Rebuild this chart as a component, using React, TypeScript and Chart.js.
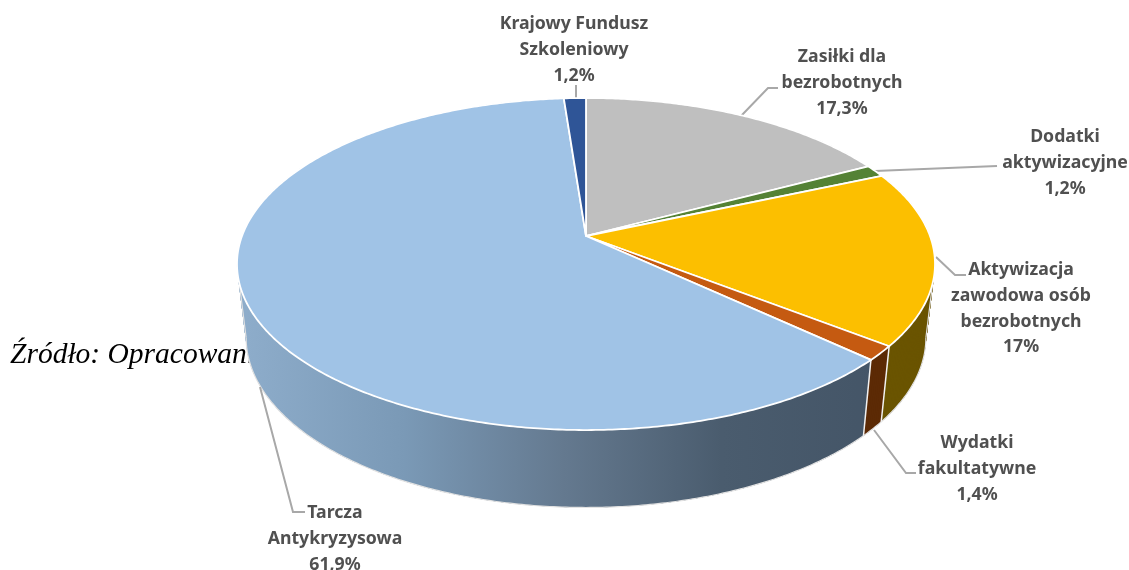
import React, { useEffect, useRef } from "react";
import { Chart, registerables } from "chart.js";

Chart.register(...registerables);

const categories = [
  ["Zasiłki dla", "bezrobotnych"],
  ["Dodatki", "aktywizacyjne"],
  ["Aktywizacja", "zawodowa osób", "bezrobotnych"],
  ["Wydatki", "fakultatywne"],
  ["Tarcza", "Antykryzysowa"],
  ["Krajowy Fundusz", "Szkoleniowy"],
];
const shares = [17.3, 1.2, 17, 1.4, 61.9, 1.2];
const faceColors = ["#bfbfbf", "#548235", "#fcbf00", "#c55a11", "#a0c3e6", "#2f5597"];
const wallColors = ["#5f5f5f", "#2a411a", "#6a5400", "#5c2a05", "#445567", "#172a4b"];
const sourceNote = "Źródło: Opracowani";

// label centre x, first line centre y
const labelAnchors = [
  [842, 57],
  [1065, 137],
  [1021, 270],
  [977, 443],
  [335, 513],
  [574, 24],
];
const leaderPaths = [
  [[741, 116], [768, 88], [778, 88]],
  [[875, 171], [997, 166]],
  [[936, 257], [955, 275], [966, 275]],
  [[874, 430], [906, 473], [916, 473]],
  [[260, 387], [293, 512], [305, 512]],
  [[576, 85], [576, 99]],
];

const TOP = { cx: 586, cy: 236, R: 344, B: 161.3, k: 0.1687 };
const BOTTOM = { cx: 586, cy: 309, R: 335, B: 165, k: 0.1687 };

type Plane = typeof TOP;
const project = (p: Plane, t: number): [number, number] => {
  const u = Math.sin(t);
  const v = -Math.cos(t);
  const w = 1 - p.k * v;
  return [p.cx + (p.R * u) / w, p.cy + (p.B * v) / w];
};
const traceRim = (ctx: CanvasRenderingContext2D, p: Plane, a: number, b: number, move: boolean) => {
  const n = Math.max(2, Math.ceil(Math.abs(b - a) / 0.01));
  for (let i = 0; i <= n; i++) {
    const [x, y] = project(p, a + ((b - a) * i) / n);
    if (i === 0 && move) ctx.moveTo(x, y);
    else ctx.lineTo(x, y);
  }
};
const segment = (ctx: CanvasRenderingContext2D, p: [number, number], q: [number, number]) => {
  ctx.beginPath();
  ctx.moveTo(p[0], p[1]);
  ctx.lineTo(q[0], q[1]);
  ctx.stroke();
};

const perspectivePie = {
  id: "perspectivePie",
  beforeDatasetsDraw(chart: any) {
    const ctx: CanvasRenderingContext2D = chart.ctx;
    const arcs = chart.getDatasetMeta(0).data;
    const spans = arcs.map((a: any) => [a.startAngle + Math.PI / 2, a.endAngle + Math.PI / 2]);

    ctx.save();
    ctx.font = "italic 29.5px 'Liberation Serif'";
    ctx.fillStyle = "#000";
    ctx.textBaseline = "alphabetic";
    ctx.textAlign = "left";
    ctx.fillText(sourceNote, 10, 363);

    const blue = ctx.createLinearGradient(247, 0, 880, 0);
    blue.addColorStop(0, "#8dacca");
    blue.addColorStop(0.25, "#7a99b6");
    blue.addColorStop(0.5, "#64798f");
    blue.addColorStop(0.75, "#4a5c6e");
    blue.addColorStop(1, "#445567");

    // side walls: overlapping quads joining the same angle on both rims
    spans.forEach(([a, b]: number[], i: number) => {
      ctx.fillStyle = i === 4 ? blue : wallColors[i];
      const step = 0.01;
      const n = Math.max(1, Math.ceil((b - a) / step));
      for (let s = 0; s < n; s++) {
        const t0 = a + step * s;
        const t1 = Math.min(b, t0 + step * 4);
        ctx.beginPath();
        traceRim(ctx, TOP, t0, t1, true);
        traceRim(ctx, BOTTOM, t1, t0, false);
        ctx.closePath();
        ctx.fill();
      }
    });

    // wall outlines and seams
    ctx.strokeStyle = "#e2e2e2";
    ctx.lineWidth = 1.2;
    ctx.beginPath();
    traceRim(ctx, BOTTOM, (99.8 * Math.PI) / 180, (260.2 * Math.PI) / 180, true);
    ctx.stroke();
    [99.8, 260.2].forEach((deg) => {
      const t = (deg * Math.PI) / 180;
      segment(ctx, project(TOP, t), project(BOTTOM, t));
    });
    ctx.strokeStyle = "#f2f2f2";
    ctx.lineWidth = 1.5;
    spans.slice(1).forEach(([a]: number[]) => {
      if (Math.sin(a) > 0.5 && -Math.cos(a) > 0) segment(ctx, project(TOP, a), project(BOTTOM, a));
    });

    // leader lines
    ctx.strokeStyle = "#a8a8a8";
    ctx.lineWidth = 2;
    leaderPaths.forEach((path) => {
      ctx.beginPath();
      path.forEach(([x, y], j) => (j ? ctx.lineTo(x, y) : ctx.moveTo(x, y)));
      ctx.stroke();
    });

    // top face
    spans.forEach(([a, b]: number[], i: number) => {
      ctx.beginPath();
      ctx.moveTo(TOP.cx, TOP.cy);
      traceRim(ctx, TOP, a, b, false);
      ctx.closePath();
      ctx.fillStyle = faceColors[i];
      ctx.fill();
      ctx.lineWidth = 1.8;
      ctx.strokeStyle = "#ffffff";
      ctx.lineJoin = "round";
      ctx.stroke();
    });

    // slice labels
    ctx.font = "bold 17.7px 'Noto Sans'";
    ctx.fillStyle = "#505050";
    ctx.textAlign = "center";
    ctx.textBaseline = "middle";
    chart.data.labels.forEach((lines: string[], i: number) => {
      const [x, y] = labelAnchors[i];
      const pct = String(chart.data.datasets[0].data[i]).replace(".", ",") + "%";
      [...lines, pct].forEach((t, j) => ctx.fillText(t, x, y + j * 25.8));
    });
    ctx.restore();
    return false;
  },
};

export default function App() {
  const ref = useRef<HTMLCanvasElement>(null);
  useEffect(() => {
    document.body.style.margin = "0";
    const chart = new Chart(ref.current!, {
      type: "pie",
      data: {
        labels: categories as any,
        datasets: [{ data: shares, backgroundColor: faceColors }],
      },
      options: {
        animation: false,
        responsive: false,
        events: [],
        plugins: { legend: { display: false }, tooltip: { enabled: false } },
      },
      plugins: [perspectivePie as any],
    });
    return () => chart.destroy();
  }, []);
  return <canvas ref={ref} width={1129} height={570} style={{ display: "block", width: 1129, height: 570 }} />;
}
